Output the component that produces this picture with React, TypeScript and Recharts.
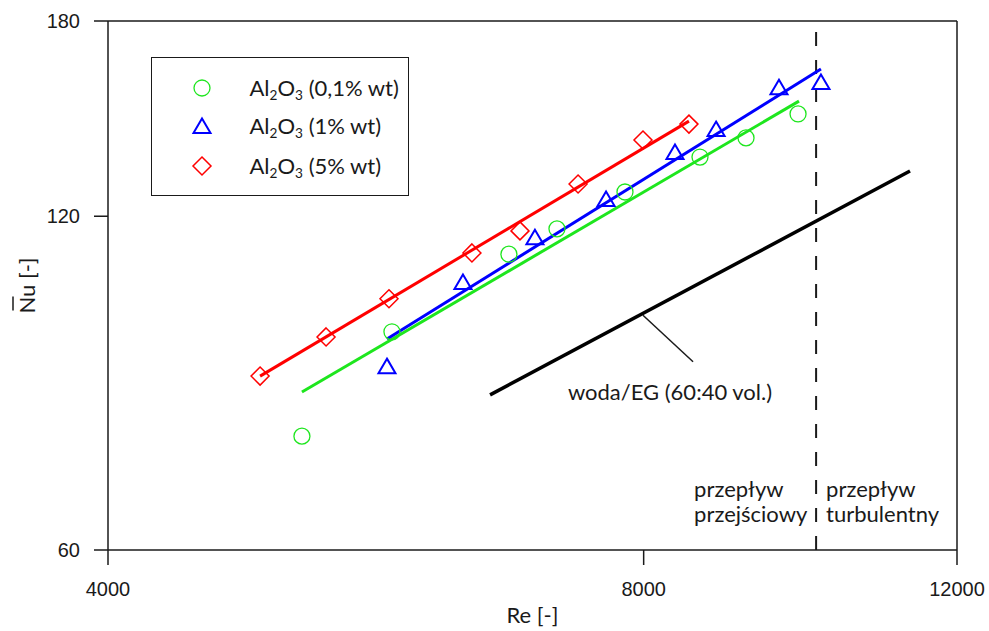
import React from 'react';
import {
  ComposedChart,
  Scatter,
  Line,
  XAxis,
  YAxis,
  ReferenceLine,
  ReferenceDot,
  Legend,
} from 'recharts';

// ---- data ----
const re01 = [5141, 5776, 6720, 7151, 7809, 8605, 9133, 9769];
const nu01 = [76.0, 94.4, 110.9, 116.9, 126.2, 135.7, 141.2, 148.4];

const re1 = [5739, 6332, 6950, 7620, 8331, 8786, 9531, 10063];
const nu1 = [87.9, 104.7, 114.9, 124.4, 137.1, 143.8, 156.9, 158.6];

const re5 = [4870, 5304, 5754, 6406, 6817, 7349, 7993, 8483];
const nu5 = [86.1, 93.4, 101.1, 111.2, 116.4, 128.3, 140.6, 145.3];

const fitRe01 = [5141, 9781];
const fitNu01 = [83.3, 152.4];
const fitRe1 = [5739, 10063];
const fitNu1 = [93.0, 162.9];
const fitRe5 = [4870, 8483];
const fitNu5 = [86.1, 146.2];
const baseRe = [6558, 11292];
const baseNu = [82.8, 131.8];

const leaderRe = [7993, 8528];
const leaderNu = [97.7, 88.7];

const xTicks = [4000, 8000, 12000];
const yTicks = [60, 120, 180];
const RE_TRANSITION = 10000;

const seriesLabels = ['(0,1% wt)', '(1% wt)', '(5% wt)'];
const baseLabel = 'woda/EG (60:40 vol.)';
const leftRegime = ['przepływ', 'przejściowy'];
const rightRegime = ['przepływ', 'turbulentny'];
const baseLabelPos = { re: 8277, nu: 83.3 };
const regimeLabelNu = 68;

const toPts = (xs: number[], ys: number[]) => xs.map((x, i) => ({ re: x, nu: ys[i] }));

const GREEN = '#1ee61e';
const BLUE = '#0000ff';
const RED = '#ff0000';
const INK = '#1a1a1a';
const TXT_FONT = 'Lato, "Open Sans", sans-serif';
const TICK_FONT = '"Liberation Sans", Arial, sans-serif';

const CircleMark = (p: any) => (
  <circle cx={p.cx} cy={p.cy} r={8} fill="none" stroke={GREEN} strokeWidth={1.3} />
);
const TriMark = (p: any) => (
  <path
    d={`M${p.cx},${p.cy - 7.5} L${p.cx + 8.5},${p.cy + 7} L${p.cx - 8.5},${p.cy + 7} Z`}
    fill="none"
    stroke={BLUE}
    strokeWidth={2}
  />
);
const DiaMark = (p: any) => (
  <path
    d={`M${p.cx},${p.cy - 9} L${p.cx + 9},${p.cy} L${p.cx},${p.cy + 9} L${p.cx - 9},${p.cy} Z`}
    fill="none"
    stroke={RED}
    strokeWidth={1.5}
  />
);

const legendMarkers = [CircleMark, TriMark, DiaMark];
const legendRowY = [31, 69, 109];

const renderLegend = () => (
  <div
    style={{
      position: 'relative',
      width: 258,
      height: 139,
      border: `1.5px solid ${INK}`,
      boxSizing: 'border-box',
      background: '#fff',
      fontFamily: TXT_FONT,
      fontSize: 22,
      color: INK,
    }}
  >
    {seriesLabels.map((lab, i) => {
      const M = legendMarkers[i];
      return (
        <React.Fragment key={lab}>
          <svg
            width={30}
            height={30}
            style={{ position: 'absolute', left: 51 - 15 - 1.5, top: legendRowY[i] - 15 - 1.5 }}
          >
            <M cx={15} cy={15} />
          </svg>
          <span
            style={{
              position: 'absolute',
              left: 99 - 1.5,
              top: legendRowY[i] - 15 - 1.5,
              height: 30,
              lineHeight: '30px',
              whiteSpace: 'nowrap',
            }}
          >
            Al
            <span style={{ fontSize: '0.62em', position: 'relative', top: '0.32em' }}>2</span>O
            <span style={{ fontSize: '0.62em', position: 'relative', top: '0.32em' }}>3</span> {lab}
          </span>
        </React.Fragment>
      );
    })}
  </div>
);

const YLabel = (props: any) => {
  const vb = props.viewBox;
  const cx = vb.x + 19;
  const cy = vb.y + vb.height / 2;
  return (
    <g transform={`translate(${cx},${cy}) rotate(-90)`}>
      <text x={0} y={0} dy="0.35em" textAnchor="middle" fontFamily={TXT_FONT} fontSize={22} fill={INK}>
        Nu [-]
      </text>
      <line x1={-25} x2={-11} y1={-14} y2={-14} stroke={INK} strokeWidth={1.5} />
    </g>
  );
};

const XLabel = (props: any) => {
  const vb = props.viewBox;
  return (
    <text
      x={vb.x + vb.width / 2}
      y={vb.y + 65}
      dy="0.35em"
      textAnchor="middle"
      fontFamily={TXT_FONT}
      fontSize={22}
      fill={INK}
    >
      Re [-]
    </text>
  );
};

const BaseText = (props: any) => {
  const vb = props.viewBox;
  return (
    <text x={vb.x} y={vb.y} dy="0.35em" textAnchor="middle" fontFamily={TXT_FONT} fontSize={22} fill={INK}>
      {baseLabel}
    </text>
  );
};

const RegimeText = (props: any) => {
  const vb = props.viewBox;
  return (
    <g fontFamily={TXT_FONT} fontSize={22} fill={INK}>
      <text x={vb.x - 122} y={vb.y} dy="0.35em" textAnchor="start">
        {leftRegime[0]}
      </text>
      <text x={vb.x - 122} y={vb.y + 25} dy="0.35em" textAnchor="start">
        {leftRegime[1]}
      </text>
      <text x={vb.x + 10} y={vb.y} dy="0.35em" textAnchor="start">
        {rightRegime[0]}
      </text>
      <text x={vb.x + 10} y={vb.y + 25} dy="0.35em" textAnchor="start">
        {rightRegime[1]}
      </text>
    </g>
  );
};

export default function App() {
  const tickStyle = { fontFamily: TICK_FONT, fontSize: 20, fill: INK };
  const axisStroke = { stroke: INK, strokeWidth: 1.5 };
  return (
    <div style={{ position: 'absolute', left: 0, top: 0, width: 989, height: 631, background: '#fff' }}>
      <ComposedChart width={989} height={631} margin={{ top: 21, right: 32, bottom: 31, left: 8 }}>
        <XAxis
          type="number"
          dataKey="re"
          scale="log"
          domain={[4000, 12000]}
          allowDataOverflow
          ticks={xTicks}
          interval={0}
          tick={tickStyle}
          tickSize={15}
          tickMargin={17}
          axisLine={axisStroke}
          tickLine={axisStroke}
          height={50}
          label={<XLabel />}
        />
        <YAxis
          type="number"
          dataKey="nu"
          scale="log"
          domain={[60, 180]}
          allowDataOverflow
          ticks={yTicks}
          interval={0}
          tick={tickStyle}
          tickSize={14}
          tickMargin={14}
          axisLine={axisStroke}
          tickLine={axisStroke}
          width={100}
          label={<YLabel />}
        />
        <ReferenceLine y={180} stroke={INK} strokeWidth={1.5} />
        <ReferenceLine x={12000} stroke={INK} strokeWidth={1.5} />
        <ReferenceLine
          segment={[
            { x: RE_TRANSITION, y: 60 },
            { x: RE_TRANSITION, y: 180 },
          ]}
          stroke={INK}
          strokeWidth={2}
          strokeDasharray="14 14"
        />
        <ReferenceLine
          segment={[
            { x: leaderRe[0], y: leaderNu[0] },
            { x: leaderRe[1], y: leaderNu[1] },
          ]}
          stroke={INK}
          strokeWidth={1.5}
        />

        <Line data={toPts(baseRe, baseNu)} dataKey="nu" stroke="#000" strokeWidth={3.5} dot={false} isAnimationActive={false} legendType="none" />
        <Line data={toPts(fitRe01, fitNu01)} dataKey="nu" stroke={GREEN} strokeWidth={3} dot={false} isAnimationActive={false} legendType="none" />
        <Line data={toPts(fitRe1, fitNu1)} dataKey="nu" stroke={BLUE} strokeWidth={3} dot={false} isAnimationActive={false} legendType="none" />
        <Line data={toPts(fitRe5, fitNu5)} dataKey="nu" stroke={RED} strokeWidth={3} dot={false} isAnimationActive={false} legendType="none" />

        <Scatter data={toPts(re01, nu01)} dataKey="nu" shape={CircleMark} isAnimationActive={false} />
        <Scatter data={toPts(re1, nu1)} dataKey="nu" shape={TriMark} isAnimationActive={false} />
        <Scatter data={toPts(re5, nu5)} dataKey="nu" shape={DiaMark} isAnimationActive={false} />

        <ReferenceDot x={baseLabelPos.re} y={baseLabelPos.nu} r={0} fill="none" stroke="none" label={<BaseText />} />
        <ReferenceDot x={RE_TRANSITION} y={regimeLabelNu} r={0} fill="none" stroke="none" label={<RegimeText />} />

        <Legend
          content={renderLegend}
          layout="vertical"
          align="center"
          verticalAlign="middle"
          wrapperStyle={{ left: 151, top: 57, width: 258, height: 139, margin: 0 }}
        />
      </ComposedChart>
    </div>
  );
}
